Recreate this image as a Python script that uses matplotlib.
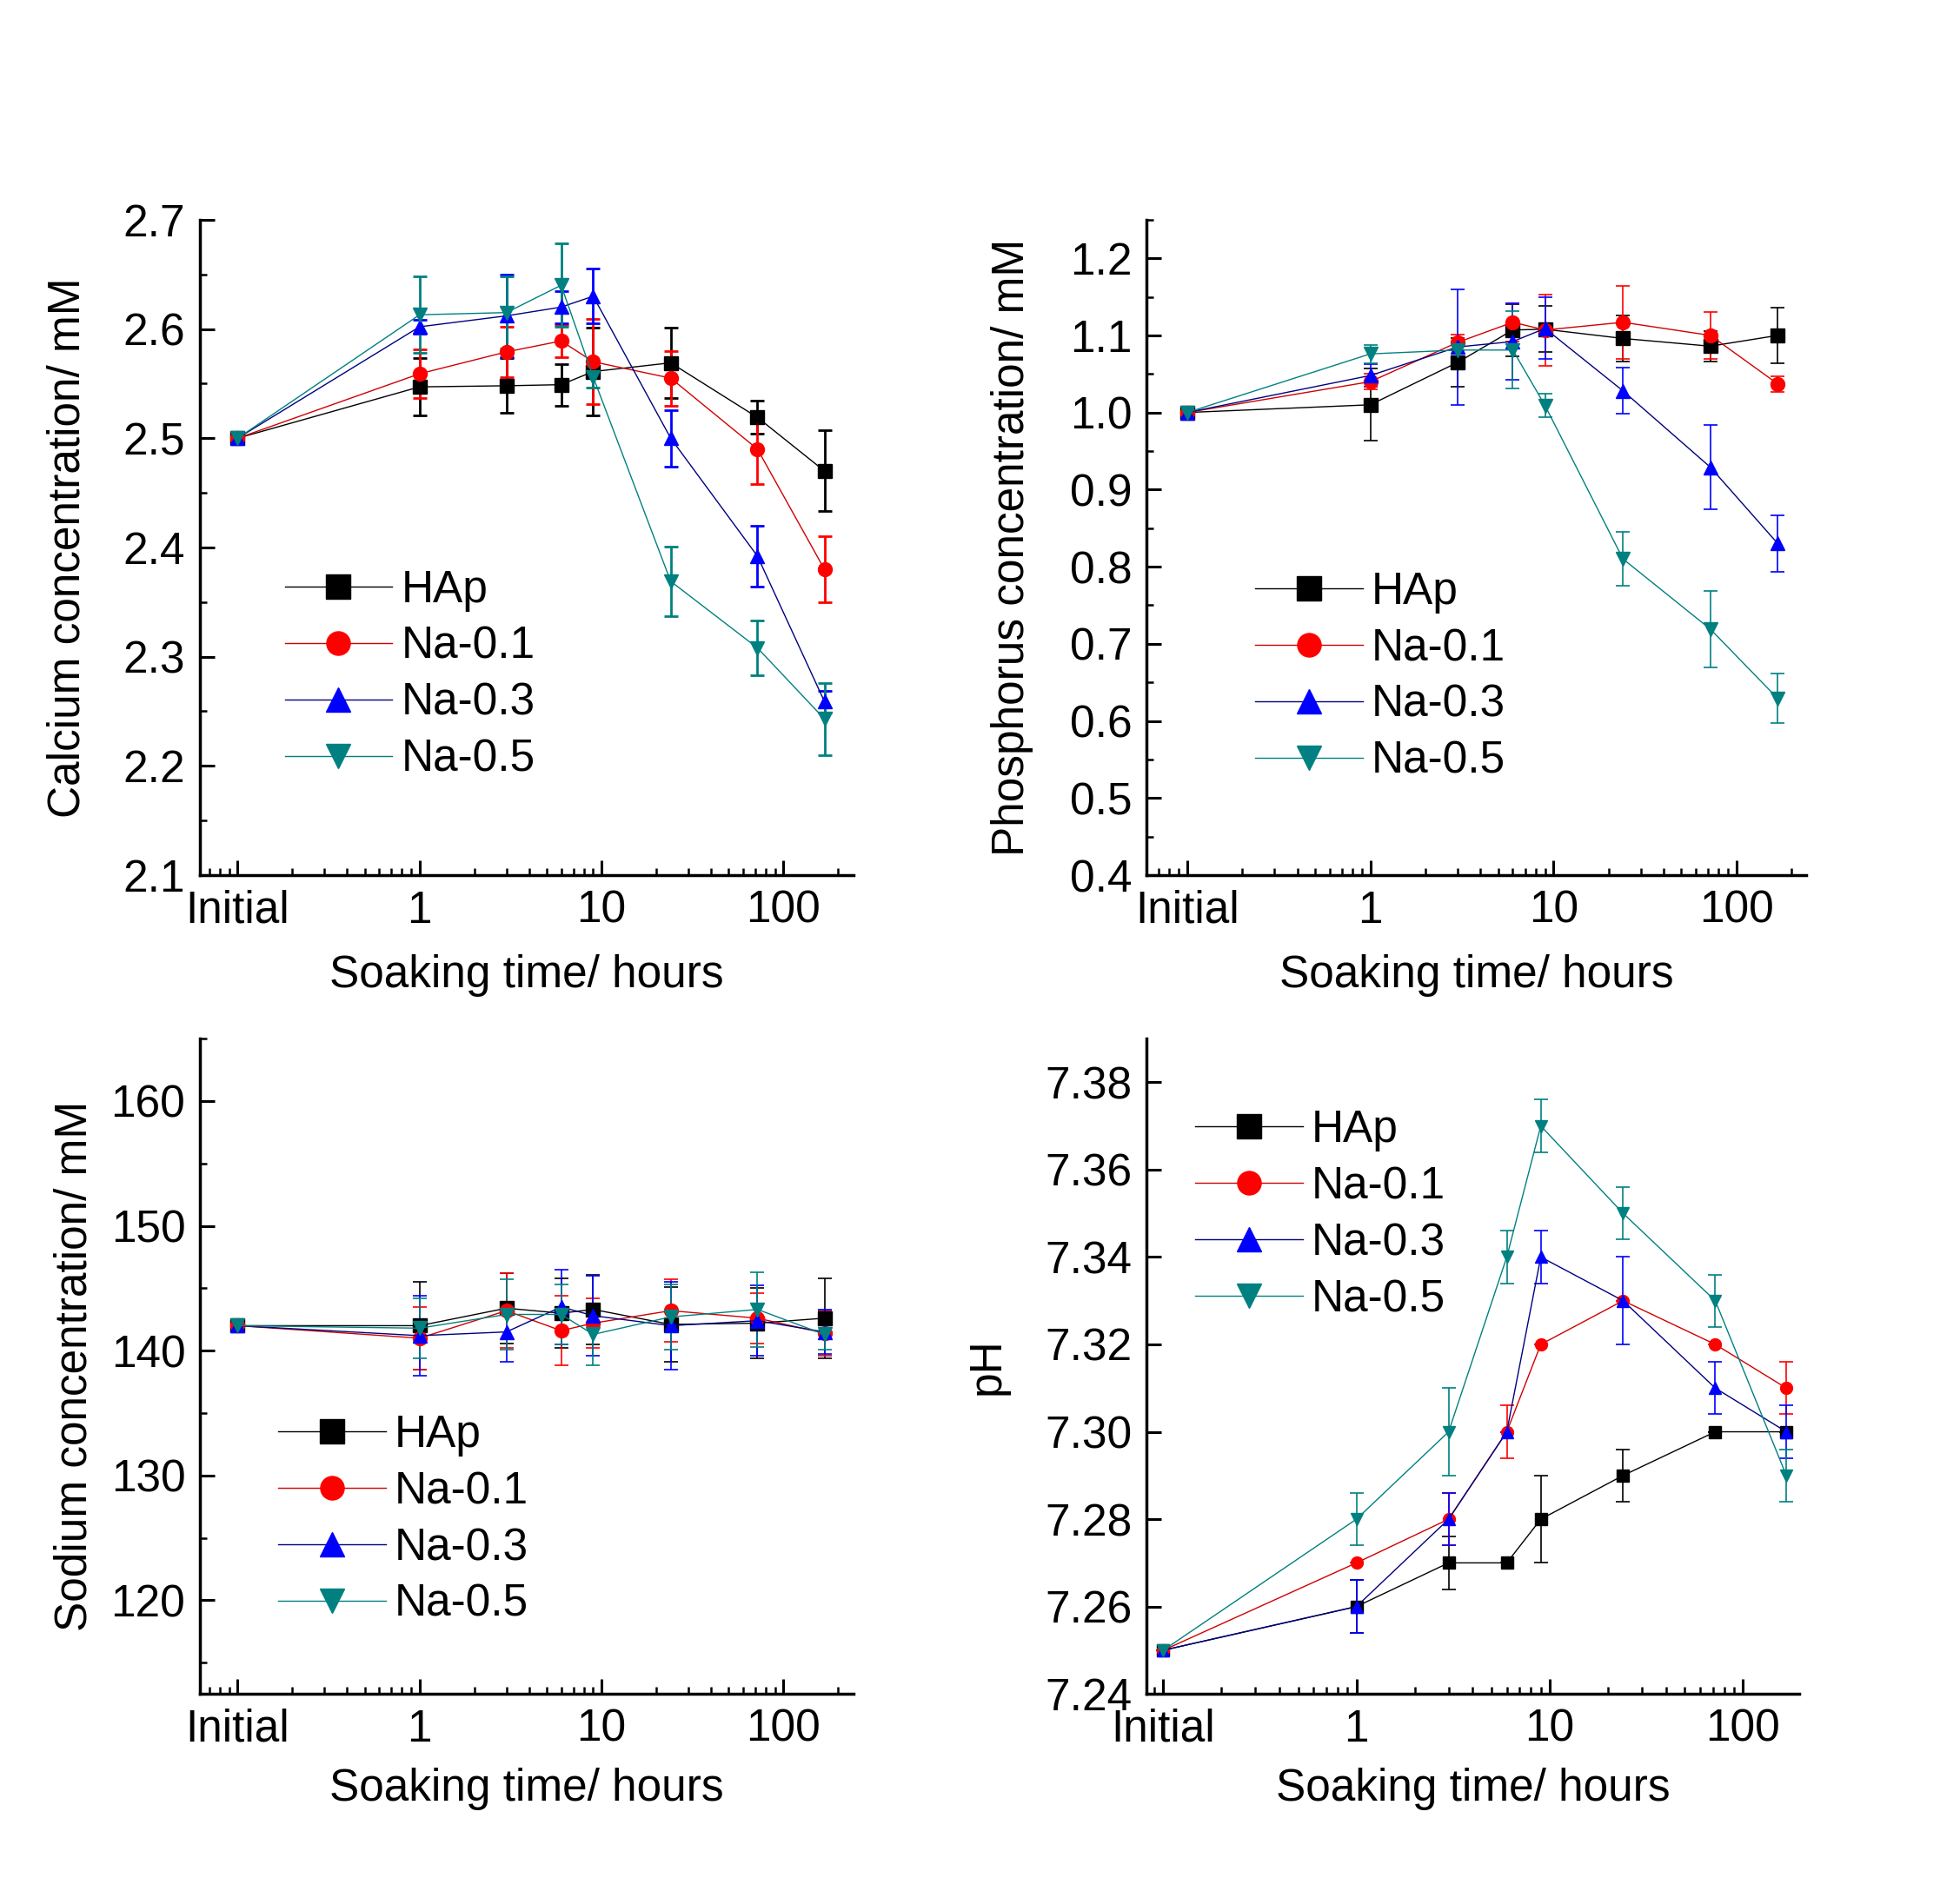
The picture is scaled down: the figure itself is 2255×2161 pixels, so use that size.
import numpy as np
import matplotlib
matplotlib.use("Agg")
import matplotlib.pyplot as plt
from matplotlib.ticker import FixedLocator, FixedFormatter, MultipleLocator, LogLocator, NullFormatter

plt.rcParams['font.family'] = ['Liberation Sans', 'DejaVu Sans']

# soaking time in hours, "Initial" is put at 0.1 on the log axis
hours = [0.1, 1, 3, 6, 9, 24, 72, 168]
series = ["HAp", "Na-0.1", "Na-0.3", "Na-0.5"]

# calcium, mM
ca_hap = [2.50, 2.547, 2.548, 2.549, 2.561, 2.569, 2.519, 2.470]
ca_na01 = [2.50, 2.559, 2.579, 2.589, 2.570, 2.555, 2.490, 2.380]
ca_na03 = [2.50, 2.602, 2.612, 2.620, 2.630, 2.500, 2.392, 2.259]
ca_na05 = [2.50, 2.613, 2.615, 2.640, 2.556, 2.369, 2.308, 2.243]
ca_hap_err = [0, 0.026, 0.025, 0.019, 0.040, 0.032, 0.015, 0.037]
ca_na01_err = [0, 0.022, 0.023, 0.015, 0.039, 0.025, 0.032, 0.030]
ca_na03_err = [0, 0.006, 0.038, 0.015, 0.025, 0.026, 0.028, 0.010]
ca_na05_err = [0, 0.035, 0.033, 0.038, 0.010, 0.032, 0.025, 0.033]

# phosphorus, mM
p_hap = [1.00, 1.010, 1.065, 1.107, 1.108, 1.096, 1.086, 1.100]
p_na01 = [1.00, 1.040, 1.091, 1.117, 1.107, 1.117, 1.100, 1.037]
p_na03 = [1.00, 1.048, 1.085, 1.092, 1.109, 1.028, 0.929, 0.830]
p_na05 = [1.00, 1.076, 1.081, 1.081, 1.009, 0.810, 0.719, 0.629]
p_hap_err = [0, 0.047, 0.032, 0.034, 0.030, 0.030, 0.020, 0.036]
p_na01_err = [0, 0.010, 0.010, 0.025, 0.046, 0.047, 0.030, 0.010]
p_na03_err = [0, 0.015, 0.075, 0.050, 0.040, 0.030, 0.055, 0.037]
p_na05_err = [0, 0.012, 0.010, 0.050, 0.015, 0.035, 0.050, 0.032]

# sodium, mM
na_hap = [142.0, 142.0, 143.4, 143.0, 143.3, 142.1, 142.2, 142.6]
na_na01 = [142.0, 141.0, 143.2, 141.6, 142.2, 143.2, 142.6, 141.4]
na_na03 = [142.0, 141.2, 141.5, 143.5, 142.8, 142.0, 142.4, 141.5]
na_na05 = [142.0, 141.8, 142.9, 142.9, 141.3, 142.7, 143.3, 141.3]
na_hap_err = [0, 3.5, 2.8, 2.8, 2.8, 3.0, 2.8, 3.2]
na_na01_err = [0, 2.5, 3.0, 2.8, 2.0, 2.5, 2.0, 1.8]
na_na03_err = [0, 3.2, 2.4, 3.0, 3.2, 3.5, 2.8, 1.8]
na_na05_err = [0, 2.4, 2.8, 2.4, 2.5, 2.6, 3.0, 1.2]

# pH
ph_hap = [7.25, 7.26, 7.27, 7.27, 7.28, 7.29, 7.30, 7.30]
ph_na01 = [7.25, 7.27, 7.28, 7.30, 7.32, 7.33, 7.32, 7.31]
ph_na03 = [7.25, 7.26, 7.28, 7.30, 7.34, 7.33, 7.31, 7.30]
ph_na05 = [7.25, 7.28, 7.30, 7.34, 7.37, 7.35, 7.33, 7.29]
ph_hap_err = [0, 0.006, 0.006, 0, 0.010, 0.006, 0, 0]
ph_na01_err = [0, 0, 0.006, 0.006, 0, 0, 0, 0.006]
ph_na03_err = [0, 0.006, 0.006, 0, 0.006, 0.010, 0.006, 0.006]
ph_na05_err = [0, 0.006, 0.010, 0.006, 0.006, 0.006, 0.006, 0.006]

xtick_pos = [0.1, 1, 10, 100]
xtick_lab = ["Initial", "1", "10", "100"]

markers = ["s", "o", "^", "v"]
mcolors = ["black", "#ff0000", "#0000ff", "#008080"]
lcolors = ["black", "#d00000", "#000080", "#008080"]

FS = 37

fig = plt.figure(figsize=(22.55, 21.61), dpi=100)


def panel(rect, ys, errs, ylim, major, minor, fmt, ylabel, xlim, leg_anchor,
          msize=11.5, ylpad=20, xlpad=18, elw=1.2):
    ax = fig.add_axes(rect)
    handles = []
    for i in range(4):
        c = ax.errorbar(hours, ys[i], yerr=errs[i], color=lcolors[i], ecolor=mcolors[i],
                        elinewidth=elw, capsize=5.5, capthick=elw, lw=1.0,
                        marker=markers[i], ms=msize, mfc=mcolors[i], mec=mcolors[i],
                        label=series[i])
        handles.append(c[0])
    ax.set_xscale("log")
    ax.set_xlim(*xlim)
    ax.set_ylim(*ylim)
    ax.xaxis.set_major_locator(FixedLocator(xtick_pos))
    ax.xaxis.set_major_formatter(FixedFormatter(xtick_lab))
    ax.xaxis.set_minor_locator(LogLocator(base=10, subs=np.arange(2, 10)))
    ax.xaxis.set_minor_formatter(NullFormatter())
    ax.yaxis.set_major_locator(MultipleLocator(major))
    if minor:
        ax.yaxis.set_minor_locator(MultipleLocator(minor))
    ax.yaxis.set_major_formatter(fmt)
    for s in ["top", "right"]:
        ax.spines[s].set_visible(False)
    for s in ["left", "bottom"]:
        ax.spines[s].set_linewidth(2.5)
    ax.tick_params(which="major", direction="in", length=12, width=2.2, labelsize=FS, pad=12)
    ax.tick_params(which="minor", direction="in", length=6, width=1.8)
    ax.set_xlabel("Soaking time/ hours", fontsize=FS, labelpad=xlpad)
    ax.set_ylabel(ylabel, fontsize=FS, labelpad=ylpad)
    # legend without the error bar glyphs
    ax.legend(handles=handles, labels=series, loc="upper left", bbox_to_anchor=leg_anchor,
              frameon=False, fontsize=FS, handlelength=2.4, handletextpad=0.2,
              labelspacing=0.31, markerscale=19.5 / msize, borderpad=0, borderaxespad=0)
    return ax


panel([0.102, 0.534, 0.3335, 0.349],
      [ca_hap, ca_na01, ca_na03, ca_na05], [ca_hap_err, ca_na01_err, ca_na03_err, ca_na05_err],
      (2.1, 2.7), 0.1, 0.05, "{x:.1f}", "Calcium concentration/ mM", (0.062, 243), (0.13, 0.467),
      ylpad=28, elw=2.0)

panel([0.585, 0.534, 0.3365, 0.349],
      [p_hap, p_na01, p_na03, p_na05], [p_hap_err, p_na01_err, p_na03_err, p_na05_err],
      (0.4, 1.25), 0.1, 0.05, "{x:.1f}", "Phosphorus concentration/ mM", (0.06, 240), (0.165, 0.464),
      ylpad=30)

panel([0.102, 0.098, 0.3335, 0.349],
      [na_hap, na_na01, na_na03, na_na05], [na_hap_err, na_na01_err, na_na03_err, na_na05_err],
      (112.5, 165), 10, 5, "{x:.0f}", "Sodium concentration/ mM", (0.062, 243), (0.12, 0.427),
      ylpad=12, xlpad=14)

panel([0.585, 0.098, 0.333, 0.349],
      [ph_hap, ph_na01, ph_na03, ph_na05], [ph_hap_err, ph_na01_err, ph_na03_err, ph_na05_err],
      (7.24, 7.39), 0.02, None, "{x:.2f}", "pH", (0.082, 196), (0.075, 0.892), msize=10,
      ylpad=30, xlpad=14)

fig.savefig("out.png", dpi=100, facecolor="white")
